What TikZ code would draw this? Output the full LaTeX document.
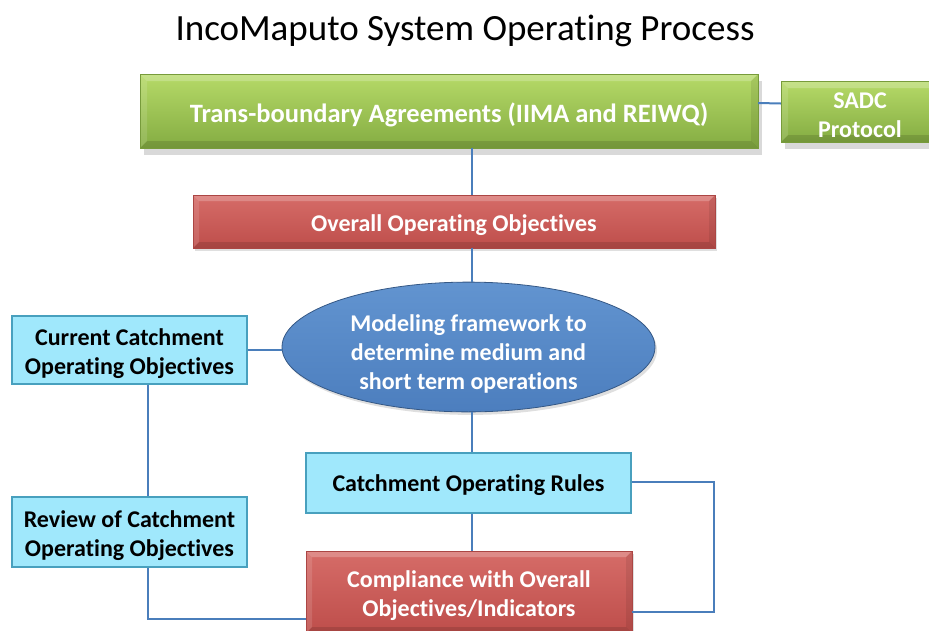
\documentclass[tikz,border=0pt]{standalone}
\usepackage{fontspec}
\setmainfont{Carlito}[Ligatures=NoCommon]
\usetikzlibrary{calc,positioning,shapes.geometric,shadows}

\definecolor{agreetop}{RGB}{182,218,104}
\definecolor{agreebot}{RGB}{132,172,66}
\definecolor{redtop}{RGB}{214,108,104}
\definecolor{redbot}{RGB}{190,78,75}
\definecolor{bluetop}{RGB}{98,148,208}
\definecolor{bluebot}{RGB}{76,126,190}
\definecolor{cyanfill}{RGB}{160,232,252}
\definecolor{cyanedge}{RGB}{72,160,190}
\definecolor{linkblue}{RGB}{74,126,187}

% taller first line pushes the text a little below the middle
\newcommand{\lowertext}[1]{\rule{0pt}{#1}}

\tikzset{bevel/.style={path picture={
    \fill[white,opacity=0.22] (path picture bounding box.north west) -- (path picture bounding box.north east)
      -- ([xshift=-#1,yshift=-#1]path picture bounding box.north east) -- ([xshift=#1,yshift=-#1]path picture bounding box.north west) -- cycle;
    \fill[white,opacity=0.12] (path picture bounding box.north west) -- (path picture bounding box.south west)
      -- ([xshift=#1,yshift=#1]path picture bounding box.south west) -- ([xshift=#1,yshift=-#1]path picture bounding box.north west) -- cycle;
    \fill[black,opacity=0.08] (path picture bounding box.north east) -- (path picture bounding box.south east)
      -- ([xshift=-#1,yshift=#1]path picture bounding box.south east) -- ([xshift=-#1,yshift=-#1]path picture bounding box.north east) -- cycle;
    \fill[black,opacity=0.12] (path picture bounding box.south west) -- (path picture bounding box.south east)
      -- ([xshift=-#1,yshift=#1]path picture bounding box.south east) -- ([xshift=#1,yshift=#1]path picture bounding box.south west) -- cycle;}},
  green box/.style={rectangle,inner sep=0pt,top color=agreetop,bottom color=agreebot,draw=agreebot!90!black,line width=0.4pt,bevel=7pt,
    drop shadow={opacity=0.3,shadow xshift=4pt,shadow yshift=-7pt},text=white,font=\fontsize{24}{29}\selectfont\bfseries,align=center},
  red box/.style={rectangle,inner sep=0pt,top color=redtop,bottom color=redbot,draw=redbot!90!black,line width=0.4pt,bevel=6pt,
    drop shadow={opacity=0.25,shadow xshift=2pt,shadow yshift=-3pt},text=white,font=\fontsize{24}{29}\selectfont\bfseries,align=center},
  cyan box/.style={rectangle,inner sep=0pt,fill=cyanfill,draw=cyanedge,line width=1.2pt,
    font=\fontsize{24}{29}\selectfont\bfseries,align=center},
  blue oval/.style={ellipse,inner sep=0pt,top color=bluetop,bottom color=bluebot,draw=bluebot!70!black,line width=0.8pt,
    drop shadow={opacity=0.25,shadow xshift=2pt,shadow yshift=-3pt},text=white,font=\fontsize{24}{29}\selectfont\bfseries,align=center},
  link/.style={draw=linkblue,line width=2pt}}

\begin{document}
\begin{tikzpicture}[x=1pt,y=-1pt]
\useasboundingbox (0,0) rectangle (929,630);
\clip (0,0) rectangle (929,630);

% title
\node[font=\fontsize{37}{44}\selectfont] (title) at (465,31) {IncoMaputo System Operating Process};

% top row: agreements and protocol
\node[green box, minimum width=618pt, minimum height=74pt, font=\fontsize{26.5}{31}\selectfont\bfseries] (agree) at (449,111) {\lowertext{27pt}Trans-boundary Agreements (IIMA and REIWQ)};
\node[green box, minimum width=158pt, minimum height=61pt] (sadc) at (860,111.5) {\lowertext{23pt}SADC\\Protocol};

% middle column
\node[red box, minimum width=522pt, minimum height=53pt] (overall) at (454,221.5) {\lowertext{24pt}Overall Operating Objectives};
\node[blue oval, minimum width=373pt, minimum height=110pt] (model) at (468.5,347) {\lowertext{30pt}Modeling framework to\\determine medium and\\short term operations};
\node[cyan box, minimum width=325pt, minimum height=60pt] (rules) at (468.5,483) {\lowertext{22pt}Catchment Operating Rules};
\node[red box, minimum width=326pt, minimum height=82pt] (comply) at (469,592) {\lowertext{24pt}Compliance with Overall\\Objectives/Indicators};

% left column
\node[cyan box, minimum width=235pt, minimum height=68pt] (current) at (129.5,350) {\lowertext{24pt}Current Catchment\\Operating Objectives};
\node[cyan box, minimum width=235pt, minimum height=70pt] (review) at (129.5,532) {\lowertext{24pt}Review of Catchment\\Operating Objectives};

% rails for the connectors
\coordinate (spine) at (472,0);
\coordinate (leftrail) at (148,0);
\coordinate (rightrail) at (714,0);

\draw[link] ([yshift=8pt]agree.east) -- ([yshift=8pt]sadc.west);
\draw[link] (agree.south -| spine) -- (overall.north -| spine);
\draw[link] (overall.south -| spine) -- (model.north -| spine);
\draw[link] (model.south -| spine) -- (rules.north -| spine);
\draw[link] (rules.south -| spine) -- (comply.north -| spine);
\draw[link] (current.east) -- (model.west |- current.east);
\draw[link] (current.south -| leftrail) -- (review.north -| leftrail);
\draw[link] (review.south -| leftrail) |- ([yshift=-27pt]comply.west);
\draw[link] ([yshift=1pt]rules.east) -| ([yshift=-20pt]rightrail |- comply.east) -- ([yshift=-20pt]comply.east);

\end{tikzpicture}
\end{document}
